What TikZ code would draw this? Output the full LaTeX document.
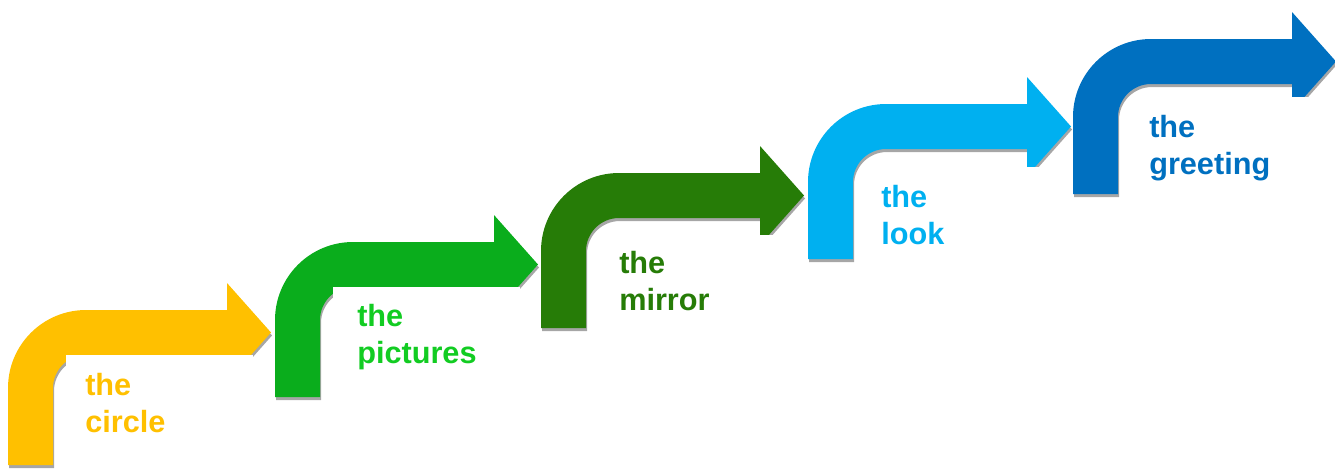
\documentclass[tikz,border=0pt]{standalone}
\usepackage{fontspec}
\setmainfont{Liberation Sans}
\usetikzlibrary{positioning}

\definecolor{stepyellow}{HTML}{FFC000}
\definecolor{stepgreen}{HTML}{0AAD1C}
\definecolor{steplime}{HTML}{12CC22}
\definecolor{stepdark}{HTML}{267C07}
\definecolor{stepsky}{HTML}{00B0F0}
\definecolor{stepblue}{HTML}{0070C0}
\definecolor{shadowgray}{HTML}{A6A6A6}

\newcommand{\bentpath}{(0,155) -- (0,78) arc[start angle=180, end angle=90, radius=58.5pt]
  -- (219,0) -- (219,-27) -- (263,22.5) -- (219,72) -- (219,45) -- (78,45)
  arc[start angle=90, end angle=180, radius=24.75pt] -- (45,155) -- cycle}

\tikzset{
  pics/steparrow/.style 2 args={code={
    \fill[shadowgray, shift={(1,3)}] \bentpath;
    \fill[#1] \bentpath;
    \fill[white] (58,#2) rectangle (245,175);
  }}
}

\begin{document}
\begin{tikzpicture}[
    x=0.75pt, y=-0.75pt,
    steplabel/.style={font=\bfseries\fontsize{23}{27.5}\selectfont,
                      align=left, anchor=base west, inner sep=0pt}
  ]
  \useasboundingbox (0,0) rectangle (1335,469);

  \pic at (8,310)    {steparrow={stepyellow}{45}};
  \pic at (275,242)  {steparrow={stepgreen}{45}};
  \pic at (541,173)  {steparrow={stepdark}{62}};
  \pic at (808,104)  {steparrow={stepsky}{63}};
  \pic at (1073,39)  {steparrow={stepblue}{58}};

  % anchor is the baseline of the second line
  \node[steplabel, text=stepyellow] (circle)   at (85,432)  {the\\circle};
  \node[steplabel, text=steplime]   (pictures) at (357,363) {the\\pictures};
  \node[steplabel, text=stepdark]   (mirror)   at (619,310) {the\\mirror};
  \node[steplabel, text=stepsky]    (look)     at (881,244) {the\\look};
  \node[steplabel, text=stepblue]   (greeting) at (1149,174) {the\\greeting};
\end{tikzpicture}
\end{document}
